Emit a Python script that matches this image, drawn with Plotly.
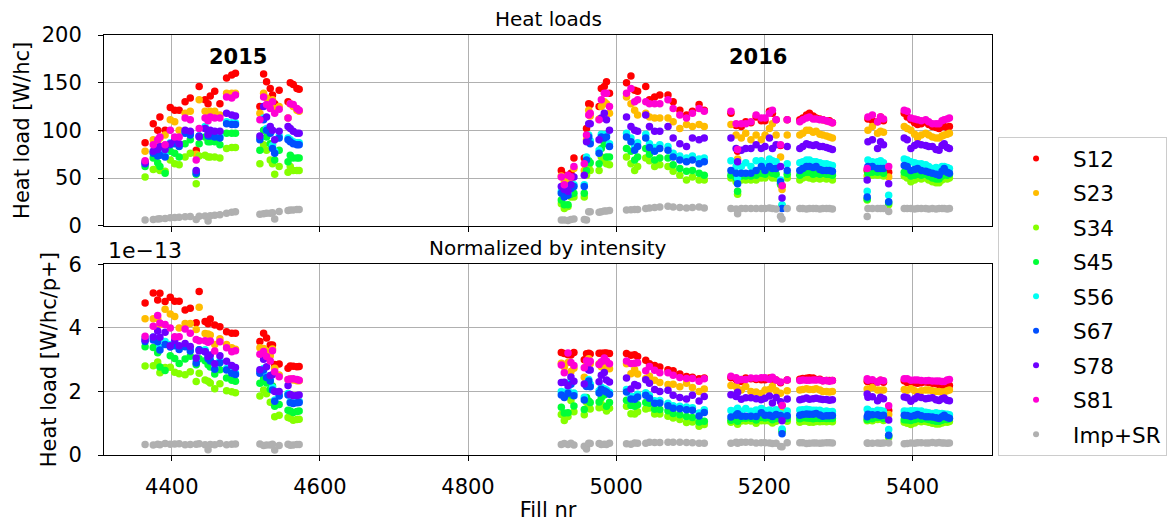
import plotly.graph_objects as go

# ---------------- data ----------------
fills = [4364, 4375, 4381, 4384, 4391, 4398, 4404, 4410, 4418, 4425, 4433, 4437, 4445, 4449, 4452, 4458, 4465, 4474, 4481, 4486,
         4519, 4524, 4528, 4533, 4536, 4539, 4545, 4557, 4560, 4564, 4569, 4572,
         4926, 4930, 4935, 4939, 4943,
         4957, 4960, 4963, 4965,
         4977, 4980, 4984, 4987, 4991,
         5014, 5020, 5025, 5029, 5040, 5045, 5052, 5059, 5070, 5077, 5086, 5095, 5103, 5112, 5119,
         5155, 5162, 5164, 5169, 5175, 5182, 5189, 5196, 5201, 5207, 5211, 5216, 5222, 5224, 5231,
         5248, 5252, 5257, 5261, 5266, 5270, 5275, 5279, 5284, 5288, 5292,
         5339, 5340, 5346, 5353, 5357, 5361,
         5368,
         5389, 5393, 5398, 5403, 5407, 5412, 5418, 5422, 5427, 5432, 5436, 5440, 5443, 5447, 5450]

# heat loads [W/hc]
S12 = [87, 107, 100, 114, 100, 124, 121, 121, 130, 134, 79, 146, 132, 128, 136, 141, 128, 155, 158, 160,
       125, 159, 151, 144, 137, 128, 142, 130, 150, 148, 144, 143,
       58, 53, 52, 55, 71,
       71, 102, 128, 127,
       125, 144, 146, 151, 139,
       150, 157, 142, 141, 146, 132, 135, 137, 137, 130, 121, 116, 120, 127, 121,
       118, 105, 78, 104, 109, 108, 114, 110, 110, 120, 118, 111, 84, 42, 111,
       111, 113, 116, 118, 115, 113, 112, 111, 110, 110, 108,
       58, 112, 110, 109, 114, 110,
       56,
       118, 114, 111, 108, 106, 107, 109, 106, 104, 103, 102, 104, 104, 103, 104]
S23 = [78, 90, 88, 92, 95, 111, 109, 100, 118, 120, 75, 132, 120, 118, 120, 120, 116, 139, 139, 139,
       118, 139, 134, 130, 132, 123, 125, 113, 128, 125, 121, 120,
       52, 46, 48, 46, 60,
       58, 90, 121, 115,
       112, 125, 130, 128, 118,
       135, 128, 121, 116, 118, 114, 113, 113, 113, 109, 102, 106, 104, 106, 104,
       106, 95, 70, 92, 97, 90, 95, 90, 95, 102, 107, 95, 72, 38, 95,
       95, 97, 100, 100, 98, 99, 96, 95, 94, 93, 92,
       52, 100, 104, 97, 99, 98,
       51,
       104, 102, 100, 96, 92, 95, 97, 95, 93, 92, 92, 94, 95, 96, 97]
S34 = [51, 59, 60, 58, 57, 69, 65, 64, 72, 76, 44, 73, 74, 72, 72, 72, 71, 81, 82, 82,
       65, 85, 79, 69, 65, 54, 62, 56, 62, 58, 58, 58,
       23, 18, 20, 30, 30,
       30, 53, 62, 58,
       58, 72, 68, 65, 64,
       72, 65, 58, 62, 71, 68, 62, 64, 62, 57, 53, 48, 51, 48, 48,
       50, 46, 33, 48, 48, 48, 48, 50, 50, 53, 50, 50, 43, 20, 50,
       48, 50, 51, 50, 49, 50, 49, 50, 49, 50, 48,
       27, 53, 53, 53, 55, 52,
       22,
       52, 50, 46, 48, 50, 49, 50, 48, 46, 45, 45, 48, 50, 49, 50]
S45 = [62, 71, 66, 62, 55, 78, 76, 72, 86, 90, 54, 86, 93, 88, 88, 88, 85, 97, 97, 97,
       79, 100, 93, 86, 86, 69, 79, 67, 74, 71, 71, 71,
       27, 22, 22, 33, 34,
       34, 58, 68, 66,
       65, 81, 86, 72, 72,
       81, 78, 69, 72, 81, 75, 69, 71, 71, 64, 60, 57, 58, 55, 53,
       53, 50, 36, 52, 52, 52, 53, 55, 54, 58, 55, 54, 44, 21, 54,
       53, 55, 56, 56, 54, 55, 54, 55, 54, 54, 53,
       28, 55, 56, 56, 58, 55,
       24,
       56, 55, 52, 53, 54, 53, 54, 52, 50, 49, 49, 52, 54, 53, 54]
S56 = [67, 78, 75, 76, 74, 87, 88, 85, 99, 97, 57, 94, 104, 96, 96, 95, 94, 109, 108, 108,
       92, 113, 102, 99, 84, 78, 94, 92, 90, 88, 87, 87,
       36, 32, 34, 41, 43,
       43, 72, 95, 89,
       79, 96, 95, 96, 86,
       97, 92, 83, 87, 96, 86, 82, 85, 83, 76, 73, 71, 73, 70, 71,
       68, 62, 50, 62, 66, 62, 68, 68, 65, 70, 68, 67, 48, 22, 65,
       66, 67, 69, 69, 67, 67, 66, 65, 65, 64, 63,
       36, 69, 67, 67, 68, 66,
       32,
       70, 69, 67, 66, 65, 65, 64, 62, 60, 61, 60, 62, 62, 61, 60]
S67 = [65, 76, 73, 74, 72, 85, 86, 83, 97, 95, 55, 94, 102, 94, 94, 93, 92, 107, 106, 106,
       90, 111, 100, 97, 81, 76, 92, 90, 88, 86, 85, 85,
       34, 30, 32, 39, 41,
       41, 69, 93, 86,
       76, 93, 92, 93, 83,
       93, 88, 79, 83, 92, 82, 78, 81, 79, 72, 69, 67, 69, 65, 67,
       58, 55, 44, 55, 55, 55, 58, 62, 58, 62, 60, 60, 46, 18, 58,
       58, 60, 62, 62, 61, 62, 59, 58, 58, 58, 57,
       30, 62, 62, 60, 60, 60,
       25,
       63, 62, 58, 59, 60, 58, 57, 56, 55, 54, 53, 57, 60, 56, 55]
S78 = [66, 78, 80, 83, 80, 86, 90, 86, 100, 99, 58, 93, 102, 96, 100, 99, 99, 118, 116, 115,
       94, 125, 114, 104, 100, 90, 99, 104, 102, 99, 97, 97,
       41, 38, 36, 43, 51,
       53, 88, 107, 107,
       90, 113, 118, 111, 100,
       114, 104, 100, 99, 116, 104, 99, 99, 104, 92, 86, 83, 92, 90, 92,
       92, 81, 67, 79, 81, 81, 85, 81, 83, 92, 81, 85, 62, 29, 83,
       81, 83, 86, 85, 84, 85, 83, 83, 82, 81, 80,
       48, 88, 90, 81, 88, 85,
       44,
       92, 90, 81, 84, 86, 85, 84, 83, 83, 80, 79, 84, 86, 82, 81]
S81 = [68, 85, 90, 93, 85, 100, 93, 93, 113, 111, 69, 102, 113, 110, 114, 113, 113, 135, 134, 137,
       111, 135, 127, 123, 130, 118, 122, 113, 128, 127, 123, 121,
       51, 43, 53, 51, 62,
       65, 95, 116, 118,
       111, 132, 139, 139, 125,
       139, 144, 130, 132, 130, 128, 128, 128, 132, 123, 116, 113, 118, 123, 120,
       120, 107, 80, 107, 107, 109, 116, 113, 113, 118, 121, 111, 85, 42, 111,
       109, 111, 113, 114, 112, 112, 111, 111, 110, 109, 108,
       60, 114, 116, 109, 114, 112,
       62,
       121, 120, 113, 112, 111, 110, 111, 109, 107, 107, 107, 110, 111, 112, 113]
ImpSR = [6.0, 6.6, 7.0, 7.2, 7.5, 8.4, 8.6, 8.8, 9.3, 9.5, 6.5, 10.0, 10.2, 5.0, 10.5, 11.0, 11.5, 13.0, 14.0, 14.5,
         12.0, 12.5, 13.0, 13.0, 13.5, 7.0, 15.0, 16.0, 16.5, 16.5, 17.0, 17.0,
         6.0, 6.0, 5.5, 6.5, 7.0,
         6.6, 6.0, 14.7, 14.5,
         14.0, 14.7, 15.5, 15.5, 16.0,
         16.5, 16.8, 17.0, 17.0, 18.0, 18.5, 19.0, 19.5, 20.5, 19.5, 19.0, 18.5, 19.0, 19.5, 18.5,
         18.0, 17.5, 12.5, 18.0, 18.0, 18.0, 18.0, 18.0, 18.0, 18.5, 18.0, 17.5, 10.0, 7.0, 18.0,
         18.0, 18.0, 17.5, 18.0, 18.0, 18.0, 17.5, 18.0, 18.0, 18.0, 17.5,
         9.5, 18.0, 18.0, 18.0, 18.0, 18.0,
         15.0,
         18.0, 18.0, 18.0, 17.5, 18.0, 18.0, 18.0, 17.5, 18.0, 17.5, 18.0, 18.0, 18.0, 17.5, 18.0]

# beam intensity per fill [1e14 p+]
intensity_e14 = [1.82, 2.10, 2.05, 2.24, 2.07, 2.50, 2.50, 2.50, 2.85, 2.90, 1.90, 2.84, 3.14, 3.10, 3.18, 3.45, 3.17, 4.00, 4.12, 4.18,
                 3.50, 4.15, 4.10, 4.16, 3.96, 4.50, 4.96, 4.76, 5.36, 5.30, 5.18, 5.14,
                 1.80, 1.66, 1.65, 1.75, 2.20,
                 2.37, 3.20, 4.00, 4.00,
                 3.90, 4.50, 4.55, 4.70, 4.35,
                 4.70, 5.00, 4.50, 4.55, 4.90, 4.60, 4.80, 4.95, 5.10, 4.90, 4.75, 4.70, 4.90, 5.30, 5.00,
                 4.85, 4.40, 3.40, 4.50, 4.50, 4.50, 4.80, 4.65, 4.65, 4.95, 4.95, 4.70, 3.70, 2.70, 4.70,
                 4.65, 4.70, 4.80, 4.85, 4.75, 4.75, 4.70, 4.75, 4.70, 4.70, 4.60,
                 2.50, 4.85, 4.90, 4.75, 4.85, 4.80,
                 4.00,
                 5.05, 5.00, 4.80, 4.75, 4.70, 4.70, 4.75, 4.65, 4.60, 4.60, 4.60, 4.75, 4.80, 4.75, 4.75]

names = ["S12", "S23", "S34", "S45", "S56", "S67", "S78", "S81", "Imp+SR"]
colors = ["#ff0000", "#ffbc00", "#86ff00", "#00ff37", "#00fff3", "#004fff", "#6e00ff", "#ff00d4", "#b0b0b0"]
series = [S12, S23, S34, S45, S56, S67, S78, S81, ImpSR]

x_ticks = [4400, 4600, 4800, 5000, 5200, 5400]
top_ticks = [0, 50, 100, 150, 200]
bot_ticks = [0, 2e-13, 4e-13, 6e-13]
bot_ticktext = ["0", "2", "4", "6"]

for s in series + [intensity_e14]:
    assert len(s) == len(fills)

FONT = "DejaVu Sans"
MS = 7.5

fig = go.Figure()
for name, col, vals in zip(names, colors, series):
    fig.add_trace(go.Scatter(x=fills, y=vals, mode="markers", name=name, legendgroup=name,
                             marker=dict(color=col, size=MS, line=dict(width=0)),
                             xaxis="x2", yaxis="y2", showlegend=False))
    norm = [v / (i * 1e14) for v, i in zip(vals, intensity_e14)]
    fig.add_trace(go.Scatter(x=fills, y=norm, mode="markers", name=name, legendgroup=name,
                             marker=dict(color=col, size=MS, line=dict(width=0)),
                             xaxis="x", yaxis="y", showlegend=False))
for name, col in zip(names, colors):
    fig.add_trace(go.Scatter(x=[None], y=[None], mode="markers", name=name, legendgroup=name,
                             marker=dict(color=col, size=6), xaxis="x", yaxis="y", showlegend=True))

axis_common = dict(showline=True, mirror=True, linecolor="black", linewidth=1,
                   ticks="outside", ticklen=5, tickwidth=1, tickcolor="black",
                   showgrid=True, gridcolor="#b0b0b0", gridwidth=1, zeroline=False,
                   tickfont=dict(size=21, family=FONT, color="black"))

fig.update_layout(
    width=1174, height=522,
    margin=dict(l=104, r=182, t=35, b=67, autoexpand=False),
    paper_bgcolor="white", plot_bgcolor="white",
    font=dict(family=FONT, size=21, color="black"),
    showlegend=True,
    legend=dict(x=1.0068, y=0.757, xanchor="left", yanchor="top",
                bordercolor="#cccccc", borderwidth=1, bgcolor="white",
                font=dict(size=21.5, family=FONT, color="black"),
                traceorder="grouped", tracegroupgap=3.5, itemwidth=64),
    xaxis=dict(domain=[0, 1], anchor="y", range=[4308.5, 5507.5], tickvals=x_ticks,
               ticklabelstandoff=8,
               title=dict(text="Fill nr", font=dict(size=21), standoff=4), **axis_common),
    xaxis2=dict(domain=[0, 1], anchor="y2", range=[4308.5, 5507.5], tickvals=x_ticks,
                matches="x", showticklabels=False, **axis_common),
    yaxis=dict(domain=[0, 0.454], anchor="x", range=[0, 6e-13], tickvals=bot_ticks,
               ticktext=bot_ticktext, ticklabelstandoff=12,
               title=dict(text="Heat load [W/hc/p+]", font=dict(size=21), standoff=6), **axis_common),
    yaxis2=dict(domain=[0.546, 1], anchor="x2", range=[0, 200], tickvals=top_ticks,
                ticklabelstandoff=12,
                title=dict(text="Heat load [W/hc]", font=dict(size=21), standoff=6), **axis_common),
    annotations=[
        dict(text="Heat loads", x=0.5, y=1.038, xref="paper", yref="paper", showarrow=False,
             xanchor="center", yanchor="middle", font=dict(size=20, family=FONT)),
        dict(text="Normalized by intensity", x=0.5, y=0.493, xref="paper", yref="paper", showarrow=False,
             xanchor="center", yanchor="middle", font=dict(size=20, family=FONT)),
        dict(text="1e\u221213", x=0.002, y=0.486, xref="paper", yref="paper", showarrow=False,
             xanchor="left", yanchor="middle", font=dict(size=22, family=FONT)),
        dict(text="<b>2015</b>", x=4489, y=177, xref="x2", yref="y2", showarrow=False,
             xanchor="center", yanchor="middle", font=dict(size=21, family=FONT)),
        dict(text="<b>2016</b>", x=5192, y=177, xref="x2", yref="y2", showarrow=False,
             xanchor="center", yanchor="middle", font=dict(size=21, family=FONT)),
    ],
)

fig.write_html("out.html", config={"displayModeBar": False},
               post_script="document.body.style.margin='0';document.body.style.overflow='hidden';")
